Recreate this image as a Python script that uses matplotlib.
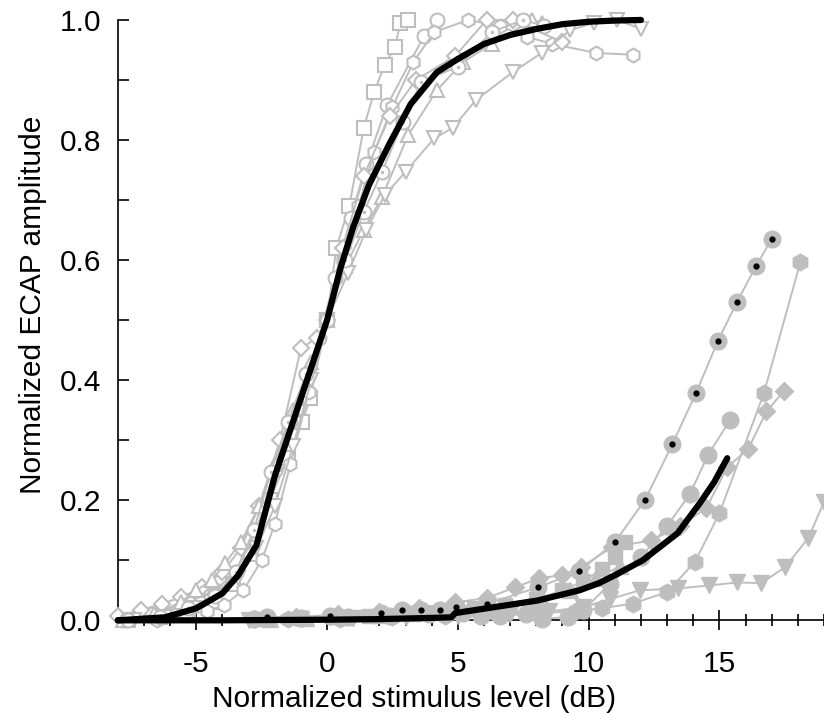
import matplotlib
matplotlib.use("Agg")
import matplotlib.pyplot as plt
from matplotlib.ticker import MultipleLocator, FormatStrFormatter

plt.rcParams['font.family'] = ['Liberation Sans', 'DejaVu Sans']
plt.rcParams['axes.unicode_minus'] = False

GRAY = "#bebebe"

# DATOS - grupo superior (marcadores vacios)
# -------------------------
sq_x = [-7.6, -6.4, -5.3, -4.4, -3.6, -2.9, -2.2, -1.5, -0.95, -0.65, 0.0, 0.35, 0.85, 1.4, 1.8, 2.2, 2.6, 2.8, 3.1]
sq_y = [0.0, 0.005, 0.015, 0.03, 0.06, 0.11, 0.2, 0.27, 0.33, 0.37, 0.5, 0.62, 0.69, 0.82, 0.88, 0.925, 0.955, 0.995, 1.0]

ci_x = [-7.8, -6.7, -5.3, -4.3, -3.5, -2.7, -2.0, -1.4, -0.8, -0.3, 0.3, 0.9, 1.5, 2.3, 3.7, 4.2]
ci_y = [0.0, 0.01, 0.03, 0.05, 0.08, 0.15, 0.25, 0.33, 0.41, 0.47, 0.57, 0.67, 0.76, 0.858, 0.973, 1.0]

hx_x = [-7.7, -6.5, -5.4, -4.6, -3.95, -3.2, -2.5, -2.0, -1.4, -0.7, 0.0, 0.6, 1.2, 1.8, 2.5, 3.3, 4.1, 5.4, 6.6, 7.65, 8.6, 10.3, 11.7]
hx_y = [0.0, 0.0, 0.01, 0.015, 0.025, 0.05, 0.1, 0.16, 0.26, 0.38, 0.5, 0.6, 0.69, 0.78, 0.855, 0.93, 0.98, 1.0, 0.99, 0.972, 0.96, 0.945, 0.942]

di_x = [-8.0, -7.1, -6.3, -5.6, -4.8, -4.0, -3.3, -2.6, -1.8, -1.0, -0.4, 0.0, 0.6, 1.4, 2.4, 3.4, 4.9, 6.1, 7.1, 9.0]
di_y = [0.008, 0.017, 0.028, 0.038, 0.055, 0.08, 0.12, 0.19, 0.3, 0.453, 0.47, 0.5, 0.62, 0.74, 0.84, 0.9, 0.94, 1.0, 1.0, 0.963]

tu_x = [-7.8, -6.6, -5.6, -5.0, -4.4, -3.9, -3.3, -2.6, -2.0, -1.3, -0.6, 0.0, 0.7, 1.4, 2.1, 3.1, 4.2, 5.2, 6.3, 7.85, 8.2]
tu_y = [0.0, 0.01, 0.03, 0.05, 0.067, 0.095, 0.13, 0.19, 0.26, 0.35, 0.43, 0.5, 0.59, 0.65, 0.705, 0.808, 0.883, 0.93, 0.96, 1.0, 0.995]

td_x = [-7.4, -6.2, -5.1, -4.2, -3.4, -2.7, -2.0, -1.3, -0.6, 0.0, 0.8, 1.5, 2.2, 3.0, 4.1, 4.8, 5.7, 7.1, 8.2, 9.3, 10.2, 11.1, 12.0]
td_y = [0.0, 0.005, 0.02, 0.04, 0.07, 0.12, 0.19, 0.29, 0.4, 0.5, 0.578, 0.65, 0.708, 0.747, 0.803, 0.82, 0.867, 0.913, 0.945, 0.983, 0.995, 1.0, 0.985]

cd_x = [-7.6, -6.4, -5.3, -4.3, -3.5, -2.8, -2.15, -1.5, -0.8, 0.0, 0.7, 1.4, 2.1, 2.9, 3.6, 5.0, 6.3, 7.5, 8.3]
cd_y = [0.0, 0.005, 0.02, 0.04, 0.08, 0.15, 0.247, 0.33, 0.41, 0.5, 0.6, 0.68, 0.747, 0.83, 0.897, 0.922, 0.98, 1.0, 0.99]

mean_up_x = [-8.0, -6.2, -5.0, -4.0, -3.4, -2.7, -2.0, -1.0, 0.0, 0.5, 1.0, 1.6, 2.4, 3.2, 4.2, 5.0, 6.0, 7.0, 8.0, 9.0, 10.0, 11.0, 12.0]
mean_up_y = [0.0, 0.005, 0.02, 0.045, 0.075, 0.125, 0.24, 0.37, 0.5, 0.585, 0.655, 0.725, 0.795, 0.86, 0.913, 0.935, 0.96, 0.975, 0.985, 0.993, 0.997, 0.999, 1.0]

# DATOS - grupo inferior (marcadores llenos)
# -------------------------
ld_x = [-2.3, 0.1, 2.07, 2.87, 3.6, 4.33, 4.94, 6.13, 8.08, 9.65, 11.0, 12.15, 13.2, 14.1, 14.94, 15.67, 16.4, 17.0]
ld_y = [0.005, 0.007, 0.013, 0.017, 0.017, 0.018, 0.022, 0.028, 0.055, 0.082, 0.13, 0.2, 0.293, 0.378, 0.465, 0.53, 0.59, 0.635]

lc_x = [-2.8, -1.0, 0.8, 2.4, 3.9, 5.2, 5.9, 6.6, 7.6, 8.2, 9.2, 9.8, 10.8, 12.0, 13.0, 13.87, 14.56, 15.4]
lc_y = [0.003, 0.004, 0.006, 0.008, 0.01, 0.012, 0.008, 0.008, 0.01, 0.003, 0.005, 0.017, 0.06, 0.105, 0.157, 0.21, 0.275, 0.333]

lh_x = [-1.5, 0.5, 2.5, 4.5, 6.5, 8.0, 9.5, 10.5, 11.7, 13.0, 14.06, 15.0, 16.7, 18.1]
lh_y = [0.002, 0.003, 0.005, 0.007, 0.01, 0.012, 0.015, 0.02, 0.028, 0.047, 0.097, 0.178, 0.378, 0.597]

ldm_x = [-2.8, -1.2, 0.4, 2.0, 3.5, 4.9, 6.1, 7.2, 8.1, 8.97, 9.7, 10.9, 12.4, 13.5, 14.5, 15.3, 16.1, 16.8, 17.47]
ldm_y = [0.003, 0.005, 0.01, 0.014, 0.02, 0.03, 0.037, 0.055, 0.07, 0.075, 0.088, 0.122, 0.133, 0.157, 0.187, 0.255, 0.285, 0.348, 0.382]

ltd_x = [-3.0, -1.0, 1.0, 3.0, 5.0, 7.0, 8.5, 9.8, 10.8, 11.95, 13.4, 14.6, 15.67, 16.6, 17.5, 18.4, 19.0]
ltd_y = [0.0, 0.002, 0.004, 0.006, 0.008, 0.01, 0.015, 0.022, 0.035, 0.05, 0.053, 0.058, 0.063, 0.062, 0.088, 0.137, 0.197]

lsq_x = [-2.6, -1.0, 0.3, 1.6, 3.0, 4.4, 5.6, 6.8, 8.0, 9.0, 9.8, 10.5, 11.0, 11.4]
lsq_y = [0.002, 0.004, 0.006, 0.008, 0.012, 0.016, 0.02, 0.026, 0.035, 0.05, 0.065, 0.085, 0.105, 0.13]

ltu_x = [-2.2, -0.8, 0.6, 2.0, 3.3, 4.6, 5.8, 7.0, 8.2, 9.3, 10.3, 11.2]
ltu_y = [0.002, 0.004, 0.006, 0.009, 0.012, 0.015, 0.02, 0.025, 0.035, 0.05, 0.07, 0.09]

mean_lo_x = [-8.0, -4.0, 0.0, 2.0, 3.0, 4.0, 4.75, 4.9, 6.1, 8.05, 9.65, 10.4, 11.0, 12.07, 13.4, 14.25, 14.8, 15.3]
mean_lo_y = [0.0, 0.0, 0.001, 0.002, 0.003, 0.004, 0.005, 0.012, 0.02, 0.033, 0.05, 0.062, 0.075, 0.1, 0.145, 0.195, 0.23, 0.27]


# FIGURA
# -------------------------
fig = plt.figure(figsize=(8.24, 7.13), dpi=100)
ax = fig.add_axes([0.143, 0.130, 0.857, 0.842])

# curvas superiores (vacias)
upper = [(sq_x, sq_y, "s"), (ci_x, ci_y, "o"), (hx_x, hx_y, "h"), (di_x, di_y, "D"),
         (tu_x, tu_y, "^"), (td_x, td_y, "v"), (cd_x, cd_y, "o")]
for xs, ys, m in upper:
    ms = 8.5 if m == "D" else 10
    ax.plot(xs, ys, color=GRAY, lw=1.4, marker=m, ms=ms, mfc="white", mec=GRAY,
            mew=1.5, clip_on=False, zorder=3)
ax.plot(cd_x, cd_y, ls="none", marker=".", ms=3, color=GRAY, clip_on=False, zorder=3)

# curvas inferiores (llenas)
lower = [(ld_x, ld_y, "o", 12), (lc_x, lc_y, "o", 12), (lh_x, lh_y, "h", 12),
         (ldm_x, ldm_y, "D", 9.5), (ltd_x, ltd_y, "v", 11), (lsq_x, lsq_y, "s", 10),
         (ltu_x, ltu_y, "^", 11)]
for xs, ys, m, ms in lower:
    ax.plot(xs, ys, color=GRAY, lw=1.4, marker=m, ms=ms, mfc=GRAY, mec=GRAY,
            clip_on=False, zorder=3)
ax.plot(ld_x, ld_y, ls="none", marker="o", ms=3.5, color="black", clip_on=False, zorder=3.5)

# medias
ax.plot(mean_up_x, mean_up_y, color="black", lw=4.5, solid_capstyle="round", clip_on=False, zorder=4)
ax.plot(mean_lo_x, mean_lo_y, color="black", lw=4.5, solid_capstyle="round", clip_on=False, zorder=4)

# EJES
# -------------------------
ax.set_xlim(-8, 19)
ax.set_ylim(0, 1.0)
ax.spines["top"].set_visible(False)
ax.spines["right"].set_visible(False)
ax.spines["left"].set_linewidth(1.2)
ax.spines["bottom"].set_linewidth(1.2)

ax.xaxis.set_major_locator(MultipleLocator(5))
ax.xaxis.set_minor_locator(MultipleLocator(1))
ax.yaxis.set_major_locator(MultipleLocator(0.2))
ax.yaxis.set_minor_locator(MultipleLocator(0.1))
ax.yaxis.set_major_formatter(FormatStrFormatter("%.1f"))

ax.tick_params(axis="x", which="major", direction="inout", length=15, width=1.2, labelsize=21.5, pad=14)
ax.tick_params(axis="x", which="minor", direction="inout", length=9, width=1.2)
ax.tick_params(axis="y", which="both", direction="in", length=8, width=1.2, labelsize=21.5, pad=12)

ax.set_xlabel("Normalized stimulus level (dB)", fontsize=21.5)
ax.set_ylabel("Normalized ECAP amplitude", fontsize=21.5)
# las etiquetas no estan centradas en el eje en el original
ax.xaxis.set_label_coords(0.419, -0.107)
ax.yaxis.set_label_coords(-0.10, 0.525)

fig.savefig("out.png", dpi=100)
